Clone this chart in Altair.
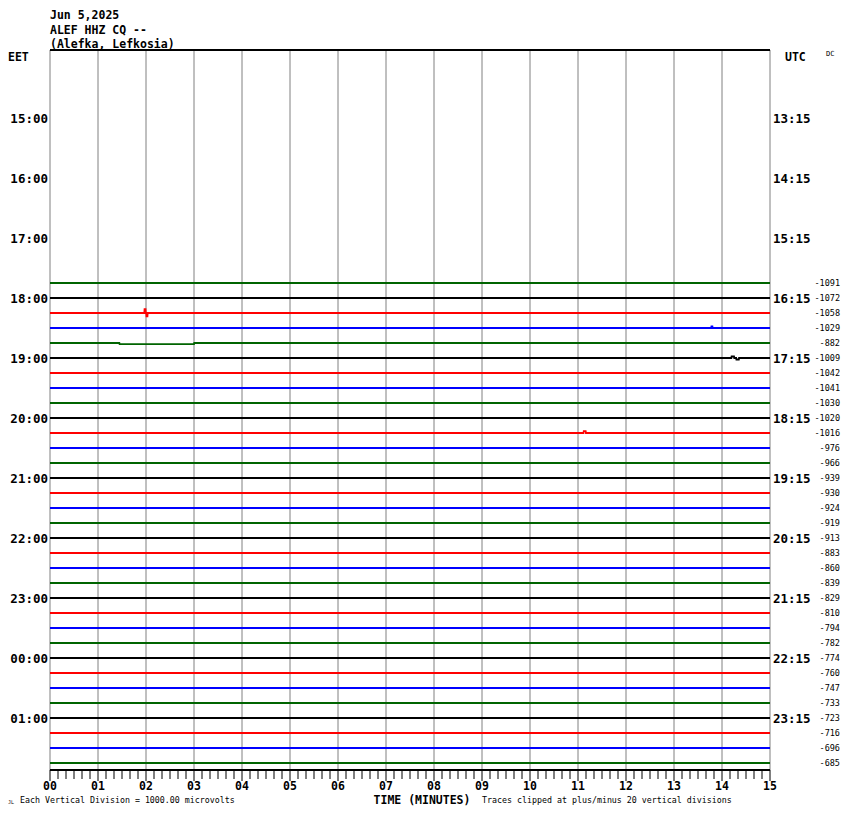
import altair as alt
import pandas as pd

# ---------------- data ----------------
title_lines = ["Jun 5,2025", "ALEF HHZ CQ --", "(Alefka, Lefkosia)"]

# row slots: 0 = 14:00 EET, one slot per 15 minutes
eet_hours = ["15:00", "16:00", "17:00", "18:00", "19:00", "20:00",
             "21:00", "22:00", "23:00", "00:00", "01:00"]
eet_slots = [4, 8, 12, 16, 20, 24, 28, 32, 36, 40, 44]
utc_hours = ["13:15", "14:15", "15:15", "16:15", "17:15", "18:15",
             "19:15", "20:15", "21:15", "22:15", "23:15"]

first_trace_slot = 15  # 17:45 EET
trace_values = [-1091, -1072, -1058, -1029, -882, -1009, -1042, -1041, -1030,
                -1020, -1016, -976, -966, -939, -930, -924, -919, -913, -883,
                -860, -839, -829, -810, -794, -782, -774, -760, -747, -733,
                -723, -716, -696, -685]

# colour by quarter hour (:00, :15, :30, :45)
quarter_colors = ["#000000", "#ff0000", "#0000ff", "#006400"]

# small visible disturbances: (slot, start minute, end minute, offset in trace spacings)
events = [
    (17, 1.97, 1.99, -0.25), (17, 2.01, 2.03, 0.22),
    (18, 13.78, 13.8, -0.1),
    (19, 1.45, 3.0, 0.08),
    (20, 14.2, 14.25, -0.1), (20, 14.3, 14.35, 0.1),
    (25, 11.12, 11.16, -0.12),
]

minutes = list(range(16))
minute_labels = [f"{m:02d}" for m in minutes]

# ---------------- tables ----------------
rows = []
for i, val in enumerate(trace_values):
    s = first_trace_slot + i
    col = quarter_colors[s % 4]
    pts = [(0.0, 0.0)]
    for (es, a, b, o) in events:
        if es == s:
            pts += [(a - 0.005, 0.0), (a, o), (b, o), (b + 0.005, 0.0)]
    pts.append((15.0, 0.0))
    for order, (m, o) in enumerate(pts):
        rows.append({"slot": s, "minute": m, "y": s + o, "color": col, "o": order})
traces = pd.DataFrame(rows)

labels_df = pd.DataFrame({
    "y": [first_trace_slot + i for i in range(len(trace_values))],
    "text": [str(v) for v in trace_values],
})
eet_df = pd.DataFrame({"y": eet_slots, "text": eet_hours})
utc_df = pd.DataFrame({"y": eet_slots, "text": utc_hours})
min_df = pd.DataFrame({"minute": minutes, "text": minute_labels})
minor_df = pd.DataFrame({"minute": [i / 6 for i in range(15 * 6 + 1) if i % 6 != 0]})

W, H = 720, 720
xs = alt.Scale(domain=[0, 15], nice=False, zero=False)
ys = alt.Scale(domain=[-8 / 15, 48 - 8 / 15], reverse=True, nice=False, zero=False)
FONT = "DejaVu Sans Mono"

grid = alt.Chart(min_df).mark_rule(color="#808080", strokeWidth=1).encode(
    x=alt.X("minute:Q", scale=xs, axis=None),
    y=alt.value(0), y2=alt.value(H))

major_ticks = alt.Chart(min_df).mark_rule(color="black", strokeWidth=1).encode(
    x=alt.X("minute:Q", scale=xs, axis=None),
    y=alt.value(H), y2=alt.value(H + 11))

minor_ticks = alt.Chart(minor_df).mark_rule(color="black", strokeWidth=1).encode(
    x=alt.X("minute:Q", scale=xs, axis=None),
    y=alt.value(H), y2=alt.value(H + 9))

frame_top = alt.Chart(min_df).mark_rule(color="black", strokeWidth=1).encode(
    x=alt.value(0), x2=alt.value(W), y=alt.value(0))
frame_bottom = alt.Chart(min_df).mark_rule(color="black", strokeWidth=1.5).encode(
    x=alt.value(0), x2=alt.value(W), y=alt.value(H))

lines = alt.Chart(traces).mark_line(strokeWidth=1.8, interpolate="linear").encode(
    x=alt.X("minute:Q", scale=xs, axis=None),
    y=alt.Y("y:Q", scale=ys, axis=None),
    color=alt.Color("color:N", scale=None),
    detail="slot:N",
    order="o:Q")

xlab = alt.Chart(min_df).mark_text(font=FONT, fontSize=11.5, fontWeight="bold",
                                   baseline="middle", align="center").encode(
    x=alt.X("minute:Q", scale=xs, axis=None), y=alt.value(H + 16.5), text="text:N")

left_lab = alt.Chart(eet_df).mark_text(font=FONT, fontSize=12.5, fontWeight="bold",
                                       align="right", baseline="middle", dy=1).encode(
    x=alt.value(-2), y=alt.Y("y:Q", scale=ys, axis=None), text="text:N")

right_lab = alt.Chart(utc_df).mark_text(font=FONT, fontSize=12.5, fontWeight="bold",
                                        align="left", baseline="middle", dy=1).encode(
    x=alt.value(W + 3), y=alt.Y("y:Q", scale=ys, axis=None), text="text:N")

val_lab = alt.Chart(labels_df).mark_text(font=FONT, fontSize=8.5,
                                         align="right", baseline="middle").encode(
    x=alt.value(W + 70), y=alt.Y("y:Q", scale=ys, axis=None), text="text:N")

one = pd.DataFrame({"a": [0]})


def txt(t, x, y, size, bold=False, align="left", baseline="middle"):
    kw = dict(font=FONT, fontSize=size, align=align, baseline=baseline, text=t)
    if bold:
        kw["fontWeight"] = "bold"
    return alt.Chart(one).mark_text(**kw).encode(x=alt.value(x), y=alt.value(y))


texts = [
    txt(title_lines[0], 0, -40, 11.5, True, baseline="top"),
    txt(title_lines[1], 0, -25.5, 11.5, True, baseline="top"),
    txt(title_lines[2], 0, -11, 11.5, True, baseline="top"),
    txt("EET", -42, 8, 11.5, True),
    txt("UTC", W + 15, 8, 11.5, True),
    txt("DC", W + 56, 4, 7),
    txt("JL", -42, H + 32, 5),
    txt("Each Vertical Division = 1000.00 microvolts", -30, H + 31, 8.3),
    txt("TIME (MINUTES)", 372, H + 30.5, 11.5, True, "center"),
    txt("Traces clipped at plus/minus 20 vertical divisions", 432, H + 31, 8.3),
]

chart = alt.layer(grid, frame_top, frame_bottom, major_ticks, minor_ticks, lines,
                  xlab, left_lab, right_lab, val_lab, *texts).properties(
    width=W, height=H,
    autosize=alt.AutoSizeParams(type="none"),
    padding={"left": 42, "top": 42, "right": 72, "bottom": 36},
    background="white",
).configure_view(stroke=None)

chart.save("out.html", embed_options={"renderer": "svg", "actions": False})
